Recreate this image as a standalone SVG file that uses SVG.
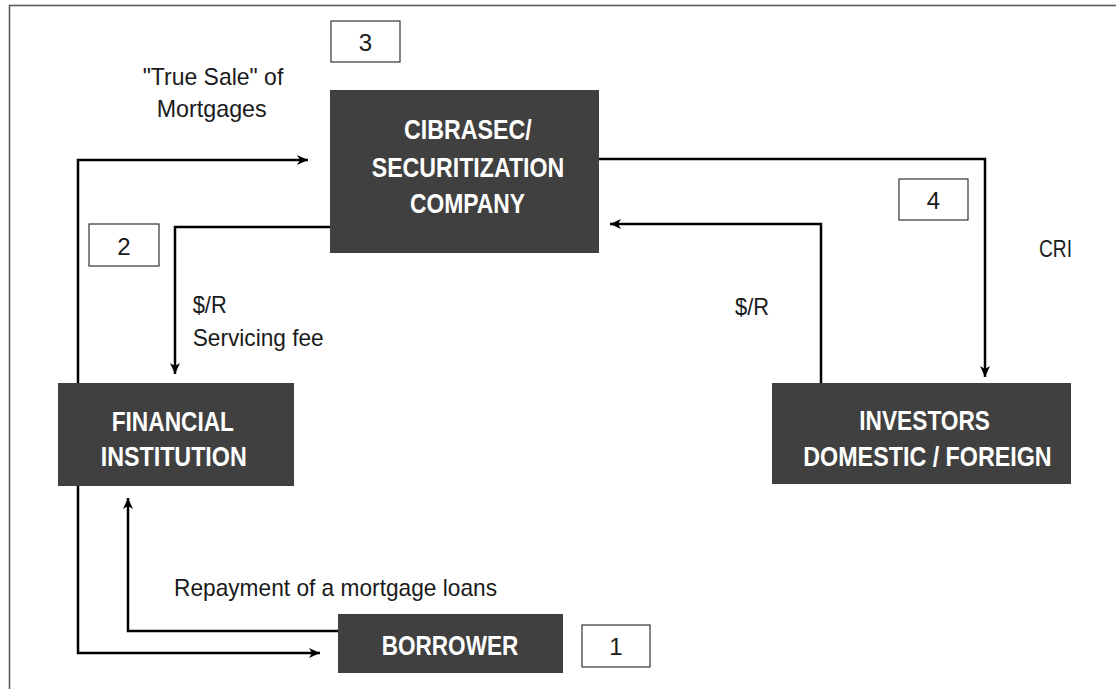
<svg xmlns="http://www.w3.org/2000/svg" width="1116" height="689" viewBox="0 0 1116 689">
<style>
.frame{fill:none;stroke:#5a5a5a;stroke-width:1.6}
.node{fill:#404040}
.nt{font-family:"Liberation Sans",Arial,sans-serif;font-weight:bold;font-size:28px;fill:#ffffff}
.lbl{font-family:"Liberation Sans",Arial,sans-serif;font-size:24px;fill:#1a1a1a}
.numbox{fill:#ffffff;stroke:#333333;stroke-width:1.2}
.num{font-family:"Liberation Sans",Arial,sans-serif;font-size:24px;fill:#1a1a1a;text-anchor:middle}
.conn{fill:none;stroke:#000000;stroke-width:2.5;marker-end:url(#arr)}
</style>
<defs>
<marker id="arr" markerUnits="userSpaceOnUse" markerWidth="12" markerHeight="10" refX="11" refY="5" orient="auto">
<path d="M0,0 L11,5 L0,10 L3,5 z" fill="#000000"/>
</marker>
</defs>
<rect class="frame" x="9.5" y="5.5" width="1130" height="700"/>
<g id="connectors">
<path class="conn" d="M78,383 V160 H308"/>
<path class="conn" d="M78,486 V653 H320"/>
<path class="conn" d="M330,227 H175 V374"/>
<path class="conn" d="M338,631 H128 V498"/>
<path class="conn" d="M599,159 H985 V377"/>
<path class="conn" d="M821,383 V224 H610"/>
</g>
<g id="cibrasec">
<rect class="node" x="330" y="90" width="269" height="163"/>
<text class="nt" x="404" y="139.3" textLength="127.7" lengthAdjust="spacingAndGlyphs">CIBRASEC/</text>
<text class="nt" x="371.7" y="176.7" textLength="192.6" lengthAdjust="spacingAndGlyphs">SECURITIZATION</text>
<text class="nt" x="410" y="213.3" textLength="115" lengthAdjust="spacingAndGlyphs">COMPANY</text>
</g>
<g id="financial">
<rect class="node" x="58" y="383" width="236" height="103"/>
<text class="nt" x="111.7" y="430.7" textLength="122.3" lengthAdjust="spacingAndGlyphs">FINANCIAL</text>
<text class="nt" x="100.7" y="466" textLength="146" lengthAdjust="spacingAndGlyphs">INSTITUTION</text>
</g>
<g id="investors">
<rect class="node" x="772" y="383" width="299" height="101"/>
<text class="nt" x="859.3" y="430" textLength="130.7" lengthAdjust="spacingAndGlyphs">INVESTORS</text>
<text class="nt" x="803.3" y="466" textLength="248.4" lengthAdjust="spacingAndGlyphs">DOMESTIC / FOREIGN</text>
</g>
<g id="borrower">
<rect class="node" x="338" y="614" width="225" height="59"/>
<text class="nt" x="381.7" y="655" textLength="136.6" lengthAdjust="spacingAndGlyphs">BORROWER</text>
</g>
<g id="step1">
<rect class="numbox" x="582" y="625" width="68" height="42"/>
<text class="num" x="616" y="655">1</text>
</g>
<g id="step2">
<rect class="numbox" x="89" y="224" width="70" height="42"/>
<text class="num" x="124" y="255">2</text>
</g>
<g id="step3">
<rect class="numbox" x="331" y="21" width="69" height="41"/>
<text class="num" x="365.5" y="50.5">3</text>
</g>
<g id="step4">
<rect class="numbox" x="899" y="179" width="69" height="41"/>
<text class="num" x="933.5" y="209">4</text>
</g>
<g id="labels">
<text class="lbl" x="142.7" y="85" textLength="140.6" lengthAdjust="spacingAndGlyphs">"True Sale" of</text>
<text class="lbl" x="156.7" y="117" textLength="110" lengthAdjust="spacingAndGlyphs">Mortgages</text>
<text class="lbl" x="192.7" y="313" textLength="34" lengthAdjust="spacingAndGlyphs">$/R</text>
<text class="lbl" x="192.7" y="346" textLength="131" lengthAdjust="spacingAndGlyphs">Servicing fee</text>
<text class="lbl" x="735" y="315" textLength="34" lengthAdjust="spacingAndGlyphs">$/R</text>
<text class="lbl" x="1039" y="257" textLength="33" lengthAdjust="spacingAndGlyphs">CRI</text>
<text class="lbl" x="174" y="596" textLength="323" lengthAdjust="spacingAndGlyphs">Repayment of a mortgage loans</text>
</g>
</svg>
